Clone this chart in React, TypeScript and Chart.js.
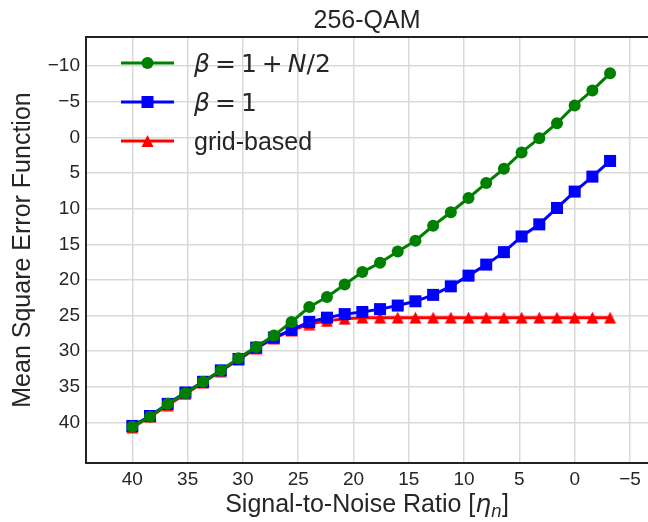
import React, { useEffect, useRef } from 'react';
import { Chart, registerables } from 'chart.js';

Chart.register(...registerables);

const snr = [40, 38.4, 36.8, 35.2, 33.6, 32, 30.4, 28.8, 27.2, 25.6, 24, 22.4, 20.8, 19.2, 17.6, 16, 14.4, 12.8, 11.2, 9.6, 8, 6.4, 4.8, 3.2, 1.6, 0, -1.6, -3.2];
const betaHalfN = [40.6, 39.2, 37.4, 35.9, 34.3, 32.7, 31.0, 29.4, 27.8, 25.9, 23.8, 22.4, 20.65, 18.9, 17.6, 16.0, 14.5, 12.4, 10.5, 8.5, 6.4, 4.4, 2.1, 0.1, -2.0, -4.5, -6.6, -9.0];
const betaOne = [40.5, 39.1, 37.4, 35.8, 34.3, 32.7, 31.1, 29.5, 28.1, 27.0, 25.9, 25.3, 24.8, 24.5, 24.1, 23.6, 23.0, 22.1, 20.9, 19.4, 17.85, 16.1, 13.9, 12.2, 9.9, 7.6, 5.5, 3.3];
const gridBased = [40.7, 39.2, 37.6, 36.0, 34.4, 32.8, 31.2, 29.6, 28.2, 27.1, 26.2, 25.75, 25.45, 25.3, 25.3, 25.3, 25.3, 25.3, 25.3, 25.3, 25.3, 25.3, 25.3, 25.3, 25.3, 25.3, 25.3, 25.3];

const xTicks = [40, 35, 30, 25, 20, 15, 10, 5, 0, -5];
const yTicks = [-10, -5, 0, 5, 10, 15, 20, 25, 30, 35, 40];

const titleText = '256-QAM';
const yTitle = 'Mean Square Error Function';

const SANS = '"Liberation Sans", Arial, sans-serif';
const MATH = '"DejaVu Sans", sans-serif';
const TEXT = '#262626';

const GREEN = '#008000';
const BLUE = '#0000ff';
const RED = '#ff0000';

const TRI = 12;

const fmt = (v: number) => (v < 0 ? '\u2212' + Math.abs(v) : String(v));

function triPath(ctx: CanvasRenderingContext2D, cx: number, cy: number, s: number) {
  ctx.beginPath();
  ctx.moveTo(cx, cy - s / 2);
  ctx.lineTo(cx + s / 2, cy + s / 2);
  ctx.lineTo(cx - s / 2, cy + s / 2);
  ctx.closePath();
}

function makeTriangle(color: string, s: number) {
  const c = document.createElement('canvas');
  c.width = s + 1;
  c.height = s + 1;
  const g = c.getContext('2d')!;
  g.fillStyle = color;
  triPath(g, (s + 1) / 2, (s + 1) / 2, s);
  g.fill();
  return c;
}

type Seg = { t: string; f: string; dy?: number; gap?: number };

function drawRich(ctx: CanvasRenderingContext2D, segs: Seg[], x: number, y: number, align: 'left' | 'center') {
  let total = 0;
  const widths = segs.map((s) => {
    ctx.font = s.f;
    const w = ctx.measureText(s.t).width + (s.gap || 0);
    total += w;
    return w;
  });
  let cx = align === 'center' ? x - total / 2 : x;
  ctx.textBaseline = 'alphabetic';
  ctx.textAlign = 'left';
  segs.forEach((s, i) => {
    ctx.font = s.f;
    ctx.fillText(s.t, cx + (s.gap || 0) / 2, y + (s.dy || 0));
    cx += widths[i];
  });
}

const legendItems = [
  {
    color: GREEN,
    style: 'circle',
    segs: [
      { t: '\u03B2', f: `italic 25px ${MATH}` },
      { t: '=', f: `25px ${MATH}`, gap: 10 },
      { t: '1', f: `25px ${MATH}` },
      { t: '+', f: `25px ${MATH}`, gap: 10 },
      { t: 'N', f: `italic 25px ${MATH}` },
      { t: '/2', f: `25px ${MATH}` },
    ] as Seg[],
  },
  {
    color: BLUE,
    style: 'rect',
    segs: [
      { t: '\u03B2', f: `italic 25px ${MATH}` },
      { t: '=', f: `25px ${MATH}`, gap: 10 },
      { t: '1', f: `25px ${MATH}` },
    ] as Seg[],
  },
  {
    color: RED,
    style: 'triangle',
    segs: [{ t: 'grid-based', f: `25px ${SANS}` }] as Seg[],
  },
];

const overlayPlugin = {
  id: 'overlay',
  afterDraw(chart: any) {
    const { ctx, chartArea } = chart;
    ctx.save();
    legendItems.forEach((it, i) => {
      const cy = chartArea.top + 26 + i * 39;
      const x0 = chartArea.left + 35;
      const x1 = chartArea.left + 88;
      ctx.strokeStyle = it.color;
      ctx.lineWidth = 3;
      ctx.beginPath();
      ctx.moveTo(x0, cy);
      ctx.lineTo(x1, cy);
      ctx.stroke();
      ctx.fillStyle = it.color;
      const mx = (x0 + x1) / 2;
      if (it.style === 'circle') {
        ctx.beginPath();
        ctx.arc(mx, cy, 6, 0, Math.PI * 2);
      } else if (it.style === 'rect') {
        ctx.beginPath();
        ctx.rect(mx - 6, cy - 6, 12, 12);
      } else {
        triPath(ctx, mx, cy, TRI);
      }
      ctx.fill();
      ctx.fillStyle = TEXT;
      drawRich(ctx, it.segs, chartArea.left + 108, cy + 9, 'left');
    });
    ctx.fillStyle = TEXT;
    const cxm = (chartArea.left + chartArea.right) / 2;
    drawRich(
      ctx,
      [
        { t: 'Signal-to-Noise Ratio [', f: `25px ${SANS}` },
        { t: '\u03B7', f: `italic 25px ${MATH}` },
        { t: 'n', f: `italic 17px ${MATH}`, dy: 5 },
        { t: ']', f: `25px ${SANS}` },
      ],
      cxm,
      512,
      'center'
    );
    ctx.restore();
  },
};

const zeroPad = (axis: any) => {
  axis.paddingLeft = 0;
  axis.paddingRight = 0;
  axis.paddingTop = 0;
  axis.paddingBottom = 0;
};

export default function App() {
  const ref = useRef<HTMLCanvasElement>(null);
  useEffect(() => {
    document.body.style.margin = '0';
    const canvas = ref.current!;
    const mk = (vals: number[]) => snr.map((x, i) => ({ x, y: vals[i] }));
    const redTri = makeTriangle(RED, TRI);
    const chart = new Chart(canvas, {
      type: 'line',
      data: {
        datasets: [
          {
            label: 'beta = 1 + N/2',
            data: mk(betaHalfN),
            borderColor: GREEN,
            backgroundColor: GREEN,
            borderWidth: 3,
            pointStyle: 'circle',
            pointRadius: 6,
            pointBorderWidth: 0,
            tension: 0,
          },
          {
            label: 'beta = 1',
            data: mk(betaOne),
            borderColor: BLUE,
            backgroundColor: BLUE,
            borderWidth: 3,
            pointStyle: 'rect',
            pointRadius: 8.5,
            pointBorderWidth: 0,
            tension: 0,
          },
          {
            label: 'grid-based',
            data: mk(gridBased),
            borderColor: RED,
            backgroundColor: RED,
            borderWidth: 3,
            pointStyle: redTri,
            pointRadius: 6,
            pointBorderWidth: 0,
            tension: 0,
          },
        ],
      },
      options: {
        animation: false,
        responsive: false,
        devicePixelRatio: 1,
        layout: { padding: 0, autoPadding: false },
        plugins: {
          legend: { display: false },
          title: { display: false },
          tooltip: { enabled: false },
        },
        scales: {
          x: {
            type: 'linear',
            position: 'bottom',
            reverse: true,
            min: -6.63,
            max: 44.19,
            afterBuildTicks: (axis: any) => {
              axis.ticks = xTicks.map((v) => ({ value: v }));
            },
            afterFit: (axis: any) => {
              axis.height = 59;
              zeroPad(axis);
            },
            grid: { color: '#d9d9d9', lineWidth: 1.5, drawTicks: false },
            border: { display: true, color: '#222222', width: 2 },
            ticks: {
              callback: (v: any) => fmt(Number(v)),
              font: { family: SANS, size: 19 },
              color: TEXT,
              padding: 5,
              maxRotation: 0,
              autoSkip: false,
            },
          },
          x2: {
            type: 'linear',
            position: 'top',
            min: 0,
            max: 1,
            afterFit: (axis: any) => {
              axis.height = 37;
              zeroPad(axis);
            },
            grid: { display: false, drawTicks: false },
            border: { display: true, color: '#222222', width: 2 },
            ticks: { display: false },
            title: {
              display: true,
              text: titleText,
              font: { family: SANS, size: 25 },
              color: TEXT,
              padding: { top: 6, bottom: 0 },
            },
          },
          y: {
            type: 'linear',
            reverse: true,
            min: -14.1,
            max: 45.7,
            afterBuildTicks: (axis: any) => {
              axis.ticks = yTicks.map((v) => ({ value: v }));
            },
            afterFit: (axis: any) => {
              axis.width = 86;
              zeroPad(axis);
            },
            grid: { color: '#d9d9d9', lineWidth: 1.5, drawTicks: false },
            border: { display: true, color: '#222222', width: 2 },
            ticks: {
              callback: (v: any) => fmt(Number(v)),
              font: { family: SANS, size: 19 },
              color: TEXT,
              padding: 6,
              autoSkip: false,
            },
            title: {
              display: true,
              text: yTitle,
              font: { family: SANS, size: 25 },
              color: TEXT,
              padding: { top: 8, bottom: 0 },
            },
          },
        },
      },
      plugins: [overlayPlugin],
    } as any);
    return () => chart.destroy();
  }, []);
  return <canvas ref={ref} width={648} height={522} style={{ display: 'block' }} />;
}
